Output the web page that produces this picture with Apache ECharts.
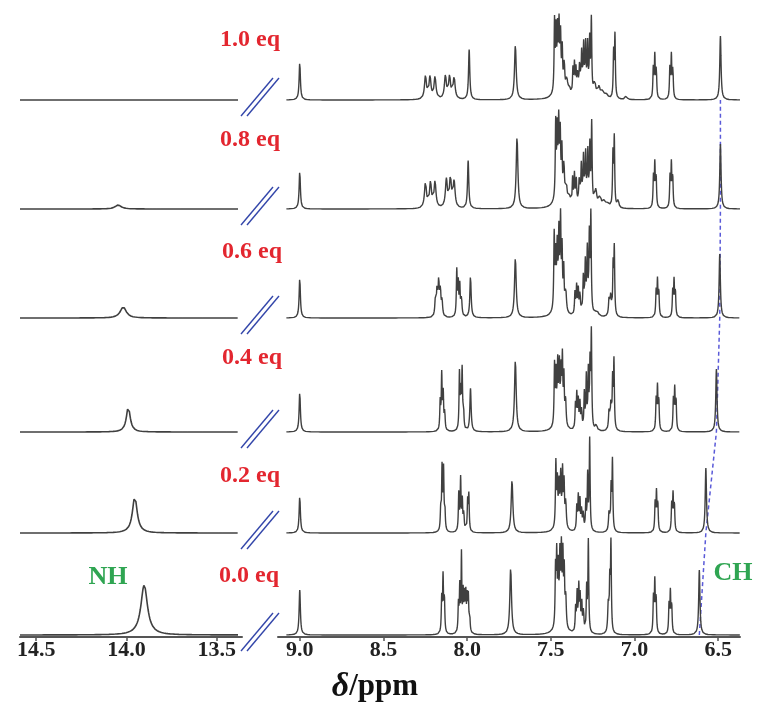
<!DOCTYPE html>
<html><head><meta charset="utf-8">
<script src="https://cdn.jsdelivr.net/npm/echarts@6/dist/echarts.min.js"></script>
<style>html,body{margin:0;padding:0;background:#fff}#c{width:760px;height:707px}</style>
</head><body><div id="c"></div>
<script>
// ---------- data ----------
const equivLabels = ['0.0 eq', '0.2 eq', '0.4 eq', '0.6 eq', '0.8 eq', '1.0 eq'];
const leftTicks = [14.5, 14.0, 13.5];
const rightTicks = [9.0, 8.5, 8.0, 7.5, 7.0, 6.5];
// NH signal per spectrum: shift (ppm), height, half width (ppm)
const nhShift  = [13.902, 13.954, 13.990, 14.018, 14.046, 14.07];
const nhHeight = [50, 36, 25, 11, 4, 0];
const nhWidth  = [0.022, 0.016, 0.013, 0.020, 0.020, 0.020];
// CH signal per spectrum
const chShift  = [6.613, 6.574, 6.511, 6.491, 6.487, 6.487];
const chHeight = [65, 65, 63, 64, 65, 64];
// aromatic peak lists per spectrum: [ppm, height, half width]
const peaks00 = [
 [9.000,45,0.0045],
 [8.152,34,0.003],[8.144,55,0.003],[8.136,34,0.003],
 [8.052,28,0.003],[8.044,45,0.003],[8.034,76,0.0025],[8.024,38,0.003],[8.016,34,0.003],[8.008,36,0.003],[8.000,32,0.003],[7.993,34,0.003],[7.985,18,0.003],
 [7.740,67,0.006],
 [7.472,56,0.003],[7.465,66,0.003],[7.456,50,0.003],[7.446,58,0.003],[7.437,66,0.003],[7.428,64,0.003],[7.420,52,0.003],[7.411,30,0.004],[7.445,18,0.02],
 [7.352,24,0.003],[7.343,38,0.003],[7.333,44,0.003],[7.325,34,0.003],[7.315,28,0.003],[7.305,22,0.003],
 [7.286,44,0.003],[7.276,92,0.003],
 [7.157,28,0.004],[7.148,48,0.003],[7.141,88,0.003],
 [6.887,35,0.003],[6.879,50,0.003],[6.871,35,0.003],
 [6.794,28,0.003],[6.786,40,0.003],[6.778,28,0.003]
];
const peaks02 = [
 [9.000,37,0.0045],
 [8.158,20,0.003],[8.150,62,0.003],[8.141,60,0.003],[8.133,20,0.003],
 [8.050,38,0.003],[8.039,52,0.003],[8.029,30,0.003],[8.020,18,0.003],
 [7.997,30,0.003],[7.990,36,0.003],
 [7.732,53,0.006],
 [7.470,64,0.003],[7.461,42,0.003],[7.451,36,0.003],[7.441,44,0.003],[7.430,52,0.003],[7.421,42,0.003],[7.411,26,0.004],[7.445,12,0.02],
 [7.345,24,0.003],[7.336,34,0.003],[7.326,30,0.003],[7.316,22,0.003],[7.306,18,0.003],
 [7.291,28,0.003],[7.280,55,0.003],[7.268,92,0.003],
 [7.152,20,0.004],[7.140,42,0.003],[7.132,70,0.003],
 [6.877,28,0.003],[6.869,38,0.003],[6.861,28,0.003],
 [6.778,27,0.003],[6.770,36,0.003],[6.762,27,0.003]
];
const peaks04 = [
 [9.000,40,0.0045],
 [8.161,28,0.003],[8.152,55,0.003],[8.143,36,0.003],[8.134,18,0.003],
 [8.046,56,0.003],[8.038,34,0.003],[8.030,58,0.003],[8.022,22,0.003],
 [7.980,43,0.0045],
 [7.712,72,0.006],
 [7.478,60,0.003],[7.469,48,0.003],[7.459,54,0.003],[7.449,50,0.003],[7.439,46,0.003],[7.431,62,0.003],[7.422,46,0.003],[7.412,26,0.004],[7.450,14,0.02],
 [7.353,24,0.003],[7.345,34,0.003],[7.336,28,0.003],[7.326,26,0.003],[7.316,20,0.003],
 [7.300,36,0.003],[7.288,52,0.003],[7.276,56,0.003],[7.266,62,0.003],[7.258,95,0.003],
 [7.228,7,0.005],
 [7.152,20,0.004],[7.141,26,0.004],[7.131,48,0.003],[7.123,68,0.003],
 [6.871,30,0.003],[6.863,42,0.003],[6.855,30,0.003],
 [6.768,30,0.003],[6.760,40,0.003],[6.752,30,0.003]
];
const peaks06 = [
 [9.000,40,0.0045],
 [8.190,16,0.004],[8.180,26,0.004],[8.170,34,0.004],[8.160,25,0.004],[8.150,15,0.004],
 [8.062,46,0.003],[8.053,32,0.003],[8.044,30,0.003],[8.034,18,0.004],
 [7.980,42,0.0045],
 [7.712,60,0.006],
 [7.480,74,0.003],[7.471,48,0.003],[7.462,52,0.003],[7.452,64,0.003],[7.442,82,0.003],[7.433,56,0.003],[7.423,40,0.003],[7.411,22,0.005],[7.455,18,0.02],
 [7.356,22,0.003],[7.346,28,0.003],[7.336,24,0.003],[7.326,20,0.003],
 [7.306,32,0.003],[7.294,42,0.003],[7.282,55,0.003],[7.270,72,0.003],[7.261,96,0.003],[7.290,12,0.02],
 [7.225,5,0.01],
 [7.152,18,0.004],[7.142,20,0.004],[7.128,48,0.003],[7.121,66,0.003],
 [6.871,25,0.003],[6.863,35,0.003],[6.855,25,0.003],
 [6.772,25,0.003],[6.764,35,0.003],[6.756,25,0.003]
];
const peaks08 = [
 [9.000,38,0.0045],
 [8.249,26,0.007],[8.219,25,0.007],[8.192,26,0.007],[8.124,28,0.007],[8.100,29,0.007],[8.078,26,0.007],
 [7.994,48,0.0045],
 [7.702,72,0.006],
 [7.471,74,0.003],[7.462,60,0.003],[7.453,64,0.003],[7.444,54,0.003],[7.434,44,0.003],[7.422,34,0.004],[7.408,18,0.006],[7.390,8,0.008],[7.450,20,0.02],
 [7.370,26,0.003],[7.359,30,0.003],[7.348,24,0.003],
 [7.330,24,0.004],[7.318,34,0.003],[7.305,38,0.003],[7.292,42,0.003],[7.279,48,0.003],[7.267,56,0.003],[7.256,80,0.003],[7.300,13,0.02],
 [7.232,16,0.008],[7.206,11,0.008],[7.180,7,0.008],[7.158,4,0.008],
 [7.129,52,0.003],[7.121,68,0.003],
 [7.098,8,0.005],
 [6.887,30,0.003],[6.879,42,0.003],[6.871,30,0.003],
 [6.788,30,0.003],[6.780,42,0.003],[6.772,30,0.003]
];
const peaks10 = [
 [9.000,38,0.0045],
 [8.249,23,0.007],[8.222,22,0.007],[8.192,22,0.007],[8.130,23,0.007],[8.105,22,0.007],[8.078,22,0.007],
 [7.988,50,0.0045],
 [7.712,55,0.006],
 [7.478,70,0.003],[7.469,56,0.003],[7.460,52,0.003],[7.451,54,0.003],[7.442,46,0.003],[7.432,38,0.003],[7.420,28,0.004],[7.405,15,0.006],[7.390,8,0.008],[7.450,18,0.02],
 [7.368,26,0.003],[7.359,30,0.003],[7.350,24,0.003],[7.340,20,0.004],
 [7.328,28,0.004],[7.316,36,0.003],[7.304,40,0.003],[7.292,42,0.003],[7.280,46,0.003],[7.268,52,0.003],[7.258,74,0.003],[7.300,13,0.02],
 [7.238,14,0.008],[7.212,11,0.008],[7.188,8,0.008],[7.165,4,0.008],
 [7.125,45,0.003],[7.117,62,0.003],
 [7.050,5,0.005],
 [6.888,30,0.003],[6.879,42,0.003],[6.870,30,0.003],
 [6.789,30,0.003],[6.780,42,0.003],[6.771,30,0.003]
];
const peakLists = [peaks00, peaks02, peaks04, peaks06, peaks08, peaks10];

// ---------- layout ----------
const baseY = [2, 104, 205, 319, 428, 537];      // stacking offsets (y units = px)
const lineColor = '#404040';

function lorentz(x, list) {
  let s = 0;
  for (const p of list) { const d = (x - p[0]) / p[2]; s += p[1] / (1 + d * d); }
  return s;
}
const series = [];
for (let i = 0; i < 6; i++) {
  const rList = peakLists[i].concat([[chShift[i], chHeight[i], 0.0045]]);
  const rData = [];
  for (let x = 9.08; x >= 6.37; x -= 0.001) rData.push([x, baseY[i] + lorentz(x, rList)]);
  const lList = [[nhShift[i], nhHeight[i], nhWidth[i]]];
  const lData = [];
  for (let x = 14.59; x >= 13.38; x -= 0.002) lData.push([x, baseY[i] + lorentz(x, lList)]);
  series.push({type:'line', name: equivLabels[i] + ' NH', xAxisIndex:0, yAxisIndex:0, data:lData,
    showSymbol:false, symbol:'none', lineStyle:{color:lineColor, width:1.6}, silent:true, z:3});
  series.push({type:'line', name: equivLabels[i], xAxisIndex:1, yAxisIndex:1, data:rData,
    showSymbol:false, symbol:'none', lineStyle:{color:lineColor, width:1.4}, silent:true, z:3});
}
// dashed trace through the CH signal
series.push({type:'line', xAxisIndex:1, yAxisIndex:1, data: chShift.map((s, i) => [s, baseY[i]]),
  showSymbol:false, symbol:'none', lineStyle:{color:'#5a5ad8', width:1.5, type:[4,3]}, silent:true, z:2});

const axisCommon = {
  type:'value', inverse:true,
  axisLine:{show:true, onZero:false, lineStyle:{color:'#555', width:2}},
  splitLine:{show:false},
  axisLabel:{fontFamily:'Liberation Serif', fontWeight:'bold', fontSize:22, color:'#222', margin:2,
    formatter: v => v.toFixed(1)}
};
const chart = echarts.init(document.getElementById('c'), null, {renderer:'canvas'});
chart.setOption({
  animation:false,
  backgroundColor:'#fff',
  grid:[{left:20, width:222, top:0, bottom:70}, {left:278, right:20, top:0, bottom:70}],
  xAxis:[
    Object.assign({}, axisCommon, {gridIndex:0, min:13.36, max:14.59,
      axisTick:{show:true, length:4, customValues:leftTicks, lineStyle:{color:'#555', width:1.5}},
      axisLabel:Object.assign({}, axisCommon.axisLabel, {customValues:leftTicks})}),
    Object.assign({}, axisCommon, {gridIndex:1, min:6.37, max:9.13,
      axisTick:{show:true, length:4, customValues:rightTicks, lineStyle:{color:'#555', width:1.5}},
      axisLabel:Object.assign({}, axisCommon.axisLabel, {customValues:rightTicks})})
  ],
  yAxis:[
    {type:'value', gridIndex:0, min:0, max:637, show:false},
    {type:'value', gridIndex:1, min:0, max:637, show:false}
  ],
  series: series
});

// ---------- annotations ----------
const labelPos = [[249,576],[250,476],[252,358],[252,252],[250,140],[250,40]];
const graphics = [];
equivLabels.forEach((t, i) => graphics.push({type:'text', x:labelPos[i][0], y:labelPos[i][1],
  style:{text:t, fill:'#e3262f', font:'bold 24px "Liberation Serif"', align:'center', verticalAlign:'middle'}}));
graphics.push({type:'text', x:108, y:577, style:{text:'NH', fill:'#2fa552', font:'bold 26px "Liberation Serif"', align:'center', verticalAlign:'middle'}});
graphics.push({type:'text', x:733, y:573, style:{text:'CH', fill:'#2fa552', font:'bold 26px "Liberation Serif"', align:'center', verticalAlign:'middle'}});
graphics.push({type:'text', x:375, y:687, style:{
  text:'{d|δ}{p|/ppm}', align:'center', verticalAlign:'middle',
  rich:{d:{font:'italic bold 34px "Liberation Serif"', fill:'#111'}, p:{font:'bold 31px "Liberation Serif"', fill:'#111'}}}});
baseY.forEach(b => {
  const py = chart.convertToPixel({gridIndex:0}, [13.4, b])[1] - 3;
  const cx = 260;
  [-3, 3].forEach(o => graphics.push({type:'line', shape:{x1:cx+o-16, y1:py+19, x2:cx+o+16, y2:py-19},
    style:{stroke:'#3346aa', lineWidth:1.4}}));
});
chart.setOption({graphic: graphics});
</script></body></html>
